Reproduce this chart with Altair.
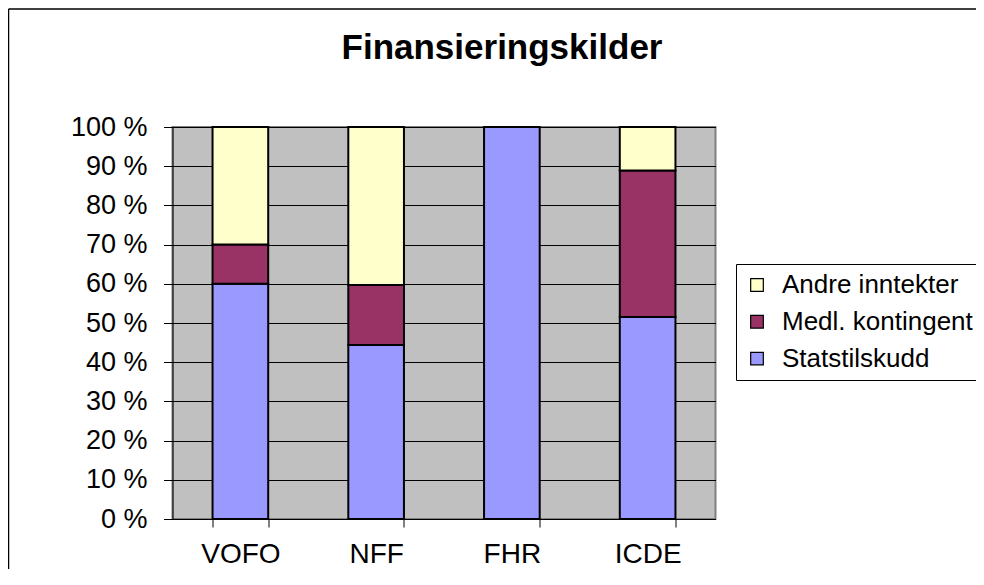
import altair as alt
import pandas as pd

categories = ["VOFO", "NFF", "FHR", "ICDE"]
series = ["Andre inntekter", "Medl. kontingent", "Statstilskudd"]
statstilskudd = [60.0, 44.4, 100.0, 51.5]
medl_kontingent = [10.0, 15.3, 0.0, 37.4]
andre_inntekter = [30.0, 40.3, 0.0, 11.1]
y_ticks = [0, 10, 20, 30, 40, 50, 60, 70, 80, 90, 100]
colors = ["#FFFFCC", "#993366", "#9999FF"]

rows = []
for i, c in enumerate(categories):
    rows.append({"org": c, "kilde": "Statstilskudd", "andel": statstilskudd[i], "rekke": 0})
    rows.append({"org": c, "kilde": "Medl. kontingent", "andel": medl_kontingent[i], "rekke": 1})
    rows.append({"org": c, "kilde": "Andre inntekter", "andel": andre_inntekter[i], "rekke": 2})
df = pd.DataFrame(rows)

FONT = "Liberation Sans"

bars = alt.Chart(df).mark_bar(stroke="black", strokeWidth=2).encode(
    x=alt.X("org:N", sort=categories,
            scale=alt.Scale(paddingInner=0.59, paddingOuter=0.295),
            axis=alt.Axis(title=None, labelAngle=0, labelFontSize=28, labelFont=FONT,
                          labelColor="black", tickBand="extent", tickSize=8,
                          tickColor="black", domainColor="black", labelPadding=13,
                          grid=False)),
    y=alt.Y("andel:Q", stack="zero",
            scale=alt.Scale(domain=[0, 100], nice=False),
            axis=alt.Axis(title=None, values=y_ticks, labelExpr="datum.value + ' %'",
                          labelFontSize=27, labelFont=FONT, labelColor="black",
                          tickSize=9, tickColor="black", domainColor="black",
                          labelPadding=16.5, grid=True, gridColor="black",
                          gridWidth=1, gridOpacity=1)),
    color=alt.Color("kilde:N",
                    scale=alt.Scale(domain=series, range=colors),
                    legend=alt.Legend(title=None, orient="none", legendX=563.5, legendY=137,
                                      labelFontSize=26, labelFont=FONT, labelColor="black",
                                      labelLimit=0,
                                      symbolType="square", symbolSize=160,
                                      symbolStrokeColor="black", symbolStrokeWidth=1.2,
                                      symbolOpacity=1,
                                      strokeColor="black", fillColor="white",
                                      padding=8, rowPadding=10.8, labelOffset=12)),
    order=alt.Order("rekke:Q", sort="ascending"),
)

frame_df = pd.DataFrame({"f": [0]})
frame_top = alt.Chart(frame_df).mark_rule(color="black", strokeWidth=1.5).encode(
    x=alt.value(-164), x2=alt.value(900), y=alt.value(-118)
)
frame_left = alt.Chart(frame_df).mark_rule(color="black", strokeWidth=1.5).encode(
    x=alt.value(-164), y=alt.value(-118), y2=alt.value(900)
)

chart = alt.layer(frame_top, frame_left, bars).properties(
    width=543, height=392,
    autosize=alt.AutoSizeParams(type="none"),
    padding={"left": 164.5, "top": 119, "right": 260, "bottom": 50},
    background="white",
    title=alt.TitleParams("Finansieringskilder", fontSize=35, font=FONT, fontWeight="bold",
                          color="black", anchor="middle", dx=58, offset=-86,
                          baseline="alphabetic"),
).configure_view(
    fill="#C0C0C0", stroke="#808080", strokeWidth=2
)

chart.save("out.html", embed_options={"renderer": "svg", "actions": False})
